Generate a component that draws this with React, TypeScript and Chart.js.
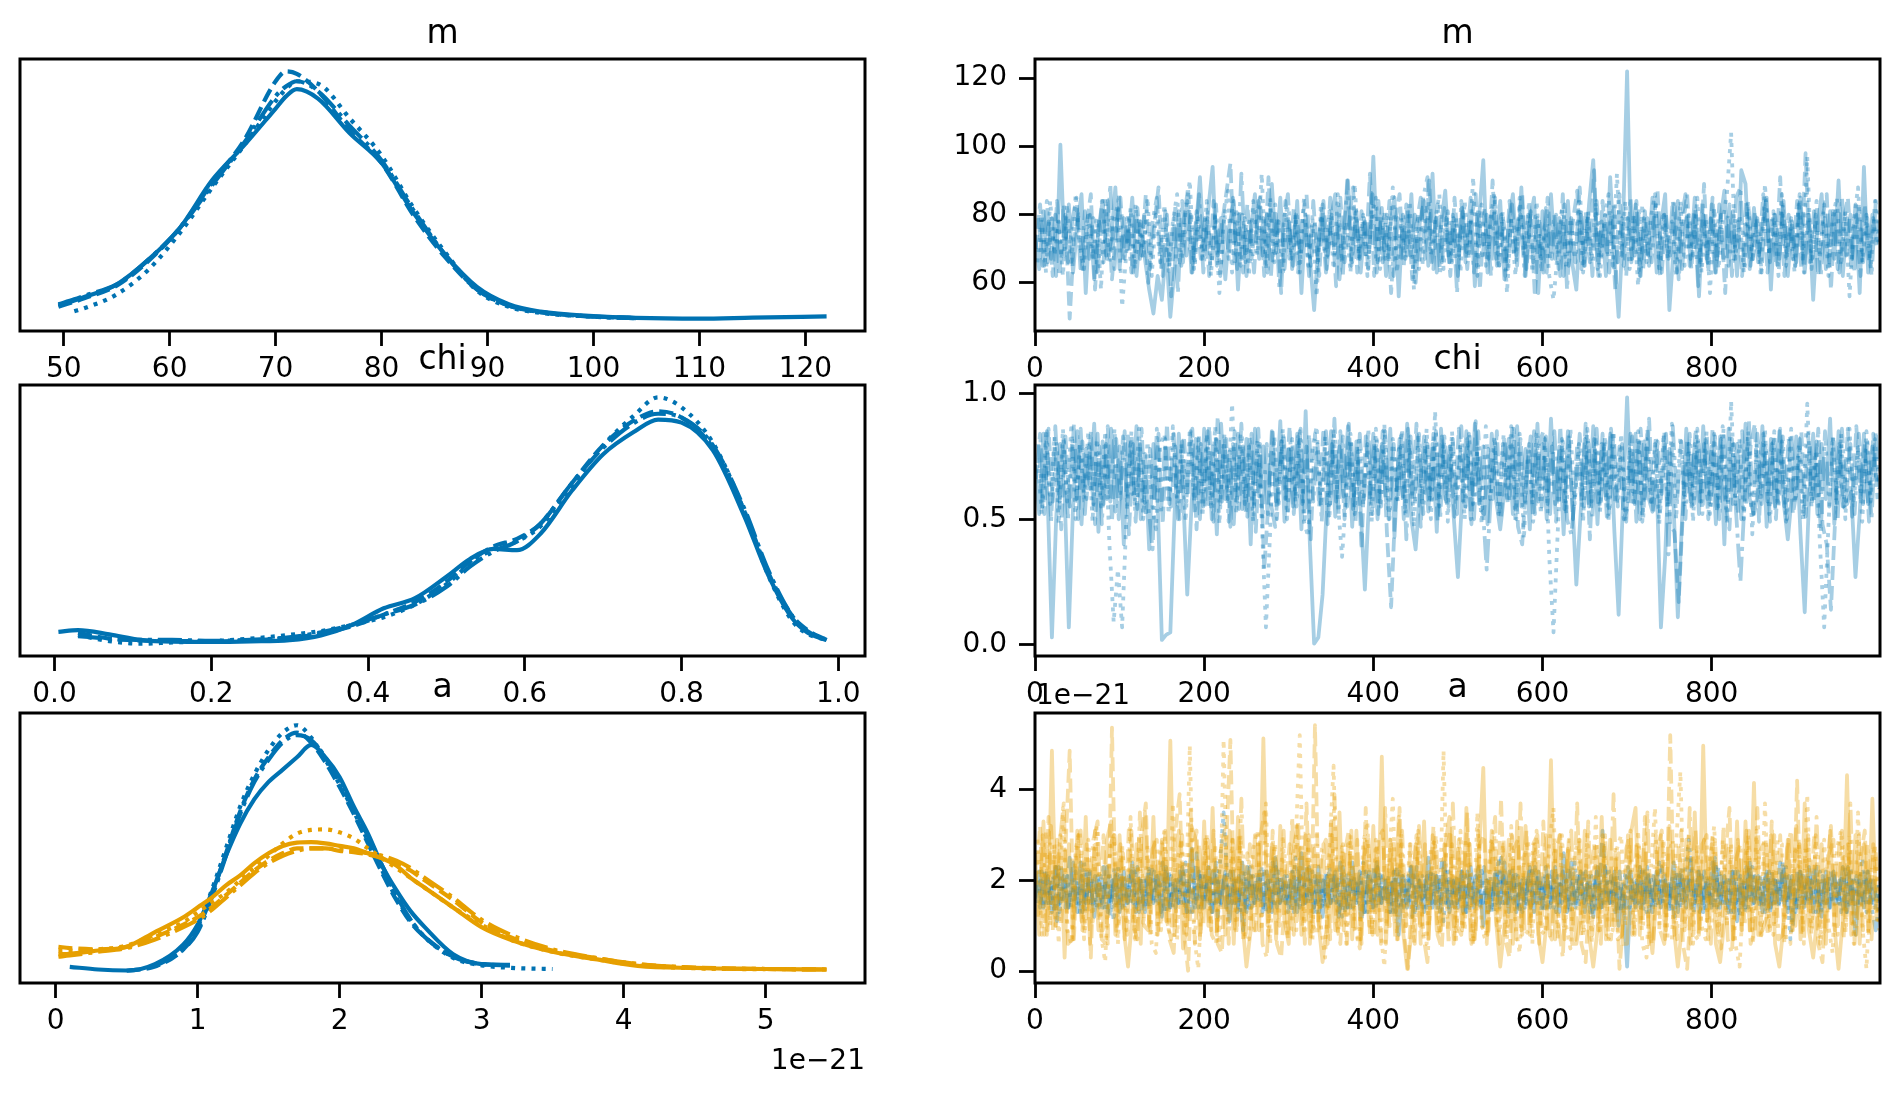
import React, { useEffect, useRef } from "react";
import { Chart, registerables } from "chart.js";

Chart.register(...registerables);

// ---------- palette / styles ----------
const BLUE = "#0072B2";
const ORANGE = "#E69F00";
const BLUE_TRACE = "rgba(0,114,178,0.35)";
const ORANGE_TRACE = "rgba(230,159,0,0.35)";
const FONT = "DejaVu Sans";
const KDE_W = 4.2;
const TRACE_W = 3.8;
// chain line styles: solid, dashed, dotted, dash-dot
const CHAIN_DASH: number[][] = [[], [14, 6], [4, 6.2], [24, 6, 4, 6]];

// ---------- tick labels ----------
const M_TICKS = [50, 60, 70, 80, 90, 100, 110, 120];
const CHI_TICKS = [0, 0.2, 0.4, 0.6, 0.8, 1.0];
const A_TICKS = [0, 1, 2, 3, 4, 5];
const DRAW_TICKS = [0, 200, 400, 600, 800];
const M_TRACE_TICKS = [60, 80, 100, 120];
const CHI_TRACE_TICKS = [0, 0.5, 1.0];
const A_TRACE_TICKS = [0, 2, 4];

// ---------- KDE of m (relative density per chain) ----------
const M_GRID = [49.5, 51, 52, 55, 58, 61, 64, 67, 70, 71, 72, 74, 77, 80, 83, 86, 89, 92, 95, 100, 104, 110, 115, 122];
const M_KDE_0 = [0.055, 0.075, 0.09, 0.14, 0.24, 0.37, 0.56, 0.70, 0.85, 0.90, 0.928, 0.89, 0.75, 0.63, 0.43, 0.26, 0.13, 0.06, 0.03, 0.012, 0.005, 0.002, 0.006, 0.011];
const M_KDE_1 = [0.05, 0.07, 0.085, 0.135, 0.235, 0.37, 0.55, 0.72, 0.96, 1.0, 0.99, 0.92, 0.76, 0.63, 0.42, 0.25, 0.12, 0.055, 0.028, 0.011, 0.004, null, null, null];
const M_KDE_2 = [null, 0.032, 0.045, 0.10, 0.20, 0.35, 0.53, 0.70, 0.88, 0.93, 0.96, 0.95, 0.81, 0.66, 0.45, 0.27, 0.115, 0.05, 0.025, 0.01, 0.004, null, null, null];
const M_KDE_3 = [0.06, 0.08, 0.095, 0.14, 0.24, 0.37, 0.54, 0.71, 0.90, 0.94, 0.96, 0.92, 0.78, 0.64, 0.44, 0.26, 0.12, 0.055, 0.028, 0.01, 0.004, null, null, null];

// ---------- KDE of chi ----------
const CHI_GRID = [0.005, 0.03, 0.07, 0.11, 0.15, 0.2, 0.25, 0.3, 0.34, 0.38, 0.42, 0.46, 0.5, 0.53, 0.56, 0.59, 0.62, 0.66, 0.70, 0.74, 0.77, 0.80, 0.84, 0.88, 0.91, 0.94, 0.96, 0.985];
const CHI_KDE_0 = [0.072, 0.079, 0.062, 0.040, 0.033, 0.032, 0.034, 0.039, 0.058, 0.10, 0.165, 0.205, 0.29, 0.36, 0.40, 0.395, 0.46, 0.63, 0.775, 0.865, 0.912, 0.90, 0.79, 0.53, 0.30, 0.13, 0.07, 0.039];
const CHI_KDE_1 = [null, 0.068, 0.045, 0.038, 0.036, 0.034, 0.038, 0.048, 0.065, 0.095, 0.14, 0.19, 0.27, 0.35, 0.41, 0.44, 0.50, 0.66, 0.81, 0.91, 0.945, 0.92, 0.80, 0.55, 0.31, 0.14, 0.08, 0.04];
const CHI_KDE_2 = [null, 0.06, 0.035, 0.025, 0.03, 0.035, 0.045, 0.06, 0.075, 0.10, 0.13, 0.18, 0.26, 0.34, 0.40, 0.43, 0.49, 0.65, 0.81, 0.93, 1.0, 0.96, 0.82, 0.55, 0.30, 0.12, 0.065, 0.04];
const CHI_KDE_3 = [null, 0.055, 0.045, 0.04, 0.04, 0.036, 0.04, 0.05, 0.07, 0.10, 0.14, 0.18, 0.25, 0.33, 0.39, 0.43, 0.50, 0.66, 0.80, 0.90, 0.935, 0.92, 0.81, 0.56, 0.32, 0.14, 0.075, 0.04];

// ---------- KDE of a (units of 1e-21); a[0] blue, a[1] orange ----------
const A_GRID = [0.02, 0.1, 0.3, 0.5, 0.7, 0.9, 1.0, 1.1, 1.2, 1.3, 1.4, 1.5, 1.6, 1.7, 1.8, 1.9, 2.0, 2.1, 2.2, 2.3, 2.4, 2.5, 2.6, 2.8, 3.0, 3.2, 3.5, 3.8, 4.1, 4.5, 5.0, 5.43];
const A0_KDE_0 = [null, 0.019, 0.008, 0.004, 0.03, 0.11, 0.19, 0.32, 0.47, 0.60, 0.70, 0.77, 0.82, 0.87, 0.92, 0.87, 0.79, 0.67, 0.56, 0.43, 0.33, 0.245, 0.18, 0.07, 0.03, 0.027, null, null, null, null, null, null];
const A0_KDE_1 = [null, null, null, 0.003, 0.02, 0.09, 0.17, 0.31, 0.48, 0.65, 0.78, 0.87, 0.94, 0.97, 0.93, 0.85, 0.75, 0.64, 0.52, 0.40, 0.29, 0.20, 0.14, 0.06, 0.03, 0.025, null, null, null, null, null, null];
const A0_KDE_2 = [null, null, null, null, 0.025, 0.10, 0.18, 0.33, 0.50, 0.67, 0.80, 0.90, 0.97, 1.0, 0.95, 0.86, 0.76, 0.65, 0.53, 0.41, 0.30, 0.21, 0.14, 0.055, 0.025, 0.015, 0.01, null, null, null, null, null];
const A0_KDE_3 = [null, null, null, null, 0.02, 0.09, 0.16, 0.30, 0.47, 0.64, 0.77, 0.86, 0.93, 0.96, 0.94, 0.87, 0.77, 0.66, 0.55, 0.43, 0.31, 0.21, 0.14, 0.06, 0.03, 0.025, null, null, null, null, null, null];
const A1_KDE_0 = [0.07, 0.072, 0.085, 0.10, 0.16, 0.22, 0.26, 0.30, 0.35, 0.39, 0.44, 0.48, 0.51, 0.523, 0.525, 0.52, 0.51, 0.50, 0.48, 0.46, 0.43, 0.38, 0.34, 0.26, 0.18, 0.13, 0.08, 0.05, 0.023, 0.014, 0.01, 0.008];
const A1_KDE_1 = [0.10, 0.095, 0.09, 0.10, 0.14, 0.19, 0.22, 0.26, 0.31, 0.36, 0.41, 0.45, 0.48, 0.50, 0.50, 0.50, 0.49, 0.485, 0.475, 0.46, 0.44, 0.41, 0.37, 0.29, 0.20, 0.14, 0.085, 0.055, 0.03, 0.016, 0.01, 0.008];
const A1_KDE_2 = [0.085, 0.085, 0.09, 0.105, 0.15, 0.20, 0.24, 0.28, 0.32, 0.37, 0.42, 0.47, 0.52, 0.56, 0.575, 0.577, 0.565, 0.54, 0.50, 0.46, 0.42, 0.38, 0.34, 0.26, 0.19, 0.13, 0.08, 0.05, 0.025, 0.013, 0.009, null];
const A1_KDE_3 = [0.06, 0.065, 0.08, 0.095, 0.13, 0.18, 0.21, 0.25, 0.30, 0.35, 0.40, 0.44, 0.47, 0.49, 0.50, 0.50, 0.495, 0.49, 0.48, 0.47, 0.45, 0.42, 0.38, 0.30, 0.21, 0.15, 0.09, 0.055, 0.03, 0.015, 0.01, 0.008];

// ---------- traces (every 5th draw; chains thinned at different phases) ----------
const DRAW_STEP = 5;
const CHAIN_PHASE = [0, 1, 3, 4];

const M_TRACE_0 = [
  74,64,81,66,79,62,100.5,68,83,63,77,86,57,80,61,76,84,67,72,88,
  64,79,70,85,62,78,67,58,51,62,55,70,50,64,81,66,84,63,75,91,
  68,82,94,65,79,61,77,84,58,80,62,75,86,67,79,63,89,69,85,64,
  78,65,84,57,80,67,52,71,83,64,79,86,61,76,90,66,81,63,78,69,
  97,66,82,62,77,85,56,80,68,86,60,78,84,65,92,63,77,87,66,79,
  62,82,69,85,59,79,96,63,81,67,84,61,77,86,65,88,62,78,85,57,
  81,63,86,67,79,62,84,66,58,80,65,83,96,64,78,62,91,68,50,75,
  122,66,83,62,79,68,85,63,77,86,52,70,84,64,79,67,85,56,80,66,
  83,63,78,87,65,81,62,93,89,64,82,66,77,85,58,80,67,84,62,78,
  66,85,63,80,55,76,86,64,81,67,90,62,79,65,83,57,94,63,80,71,
];
const M_TRACE_1 = [
  70,83,65,78,62,84,67,80,49.5,72,81,64,77,86,58,79,66,84,61,76,
  85,67,79,63,82,68,86,64,77,88,62,80,56,83,65,78,88,63,81,67,
  79,62,84,68,77,86,95,65,80,63,83,67,78,85,62,91,66,79,57,84,
  67,82,63,79,86,65,78,62,84,68,80,59,85,66,77,88,63,81,67,92,
  62,84,66,80,57,78,86,65,82,61,77,85,67,90,64,83,66,79,62,85,
  68,81,64,79,86,58,82,67,90,65,80,62,84,68,78,86,64,81,56,79,
  63,85,67,80,62,83,65,78,87,64,81,66,93,62,84,68,80,58,86,65,
  79,67,84,62,81,65,78,87,63,80,68,84,61,77,86,64,82,66,89,63,
  85,66,80,57,83,67,78,62,84,65,81,68,86,63,79,66,91,62,80,67,
  84,64,98,66,81,62,79,86,58,82,63,78,85,67,80,62,83,66,79,72,
];
const M_TRACE_2 = [
  66,80,63,84,68,78,62,83,65,86,71,64,81,67,79,58,85,66,78,83,
  53,69,82,64,79,67,85,62,80,66,83,63,78,86,65,81,90,64,79,67,
  84,62,80,57,78,87,63,82,65,79,62,84,68,92,64,85,66,78,62,83,
  67,80,63,85,65,79,56,83,68,81,64,86,66,78,63,89,67,80,62,79,
  85,64,81,66,88,63,79,67,84,58,80,65,83,68,78,86,64,81,66,79,
  63,84,67,91,62,83,65,78,86,64,81,57,79,62,85,68,80,63,84,66,
  78,62,55,69,82,64,79,67,85,63,80,66,83,62,78,86,65,92,67,84,
  64,80,59,83,66,79,86,63,81,67,78,62,84,65,80,68,85,63,79,57,
  82,64,78,86,104,67,80,63,84,66,79,62,89,68,81,64,86,65,78,63,
  84,66,97,64,80,67,83,62,79,85,65,81,56,78,88,66,80,64,84,70,
];
const M_TRACE_3 = [
  79,65,84,67,80,62,83,66,78,85,63,81,67,79,62,84,68,89,64,86,
  66,79,63,83,67,80,60,78,85,64,81,66,79,57,84,68,80,65,86,63,
  79,66,83,62,80,67,85,64,92,66,79,63,84,68,80,62,83,58,78,86,
  64,81,67,79,62,84,66,80,63,85,68,78,62,90,65,81,67,79,64,86,
  63,80,67,84,62,79,66,83,68,80,64,85,91,66,79,63,82,67,80,57,
  84,66,79,63,82,67,80,62,85,65,78,64,83,68,80,62,84,66,79,63,
  82,67,80,64,86,58,79,66,88,65,81,62,84,67,80,63,83,66,79,62,
  85,68,81,64,79,66,83,62,80,67,84,63,78,86,65,81,59,84,67,79,
  63,83,66,80,62,85,88,64,81,67,79,63,84,66,80,62,83,68,79,65,
  86,63,80,67,84,62,79,66,82,64,85,68,80,63,83,66,79,62,84,72,
];

const CHI_TRACE_0 = [
  0.72,0.52,0.84,0.58,0.03,0.50,0.80,0.60,0.07,0.55,0.85,0.48,0.78,0.62,0.88,0.45,0.81,0.58,0.86,0.53,
  0.79,0.40,0.83,0.60,0.87,0.50,0.76,0.38,0.80,0.57,0.02,0.04,0.05,0.52,0.84,0.61,0.20,0.55,0.82,0.50,
  0.86,0.56,0.79,0.44,0.88,0.58,0.77,0.48,0.84,0.54,0.82,0.40,0.86,0.59,0.79,0.52,0.85,0.57,0.89,0.49,
  0.78,0.55,0.84,0.46,0.93,0.40,0.005,0.03,0.20,0.56,0.85,0.51,0.79,0.59,0.87,0.47,0.81,0.54,0.22,0.58,
  0.84,0.50,0.80,0.57,0.86,0.43,0.78,0.59,0.88,0.50,0.38,0.61,0.83,0.53,0.80,0.45,0.86,0.58,0.79,0.51,
  0.27,0.59,0.85,0.50,0.88,0.56,0.79,0.48,0.84,0.58,0.46,0.61,0.82,0.52,0.87,0.55,0.78,0.46,0.85,0.57,
  0.80,0.50,0.90,0.56,0.79,0.44,0.85,0.59,0.24,0.52,0.82,0.55,0.87,0.48,0.80,0.58,0.84,0.45,0.12,0.55,
  0.985,0.57,0.84,0.50,0.81,0.59,0.53,0.65,0.07,0.35,0.78,0.55,0.11,0.50,0.86,0.57,0.80,0.52,0.87,0.58,
  0.79,0.48,0.83,0.40,0.86,0.56,0.80,0.50,0.88,0.58,0.52,0.61,0.87,0.47,0.82,0.55,0.85,0.57,0.42,0.60,
  0.83,0.44,0.13,0.57,0.84,0.52,0.80,0.58,0.90,0.48,0.85,0.55,0.56,0.61,0.27,0.52,0.84,0.56,0.79,0.65,
];
const CHI_TRACE_1 = [
  0.66,0.84,0.52,0.86,0.57,0.80,0.46,0.83,0.55,0.88,0.50,0.81,0.58,0.85,0.48,0.79,0.56,0.87,0.49,0.82,
  0.58,0.85,0.44,0.80,0.54,0.86,0.51,0.78,0.57,0.84,0.48,0.88,0.55,0.79,0.50,0.83,0.59,0.86,0.46,0.80,
  0.55,0.87,0.49,0.91,0.57,0.82,0.47,0.85,0.54,0.79,0.51,0.84,0.45,0.80,0.30,0.57,0.86,0.50,0.81,0.58,
  0.87,0.52,0.83,0.56,0.79,0.42,0.84,0.55,0.86,0.48,0.80,0.57,0.85,0.50,0.88,0.54,0.79,0.38,0.83,0.57,
  0.80,0.52,0.85,0.45,0.15,0.55,0.82,0.50,0.86,0.58,0.88,0.47,0.80,0.56,0.84,0.49,0.83,0.57,0.79,0.51,
  0.86,0.56,0.82,0.48,0.89,0.54,0.52,0.78,0.58,0.85,0.50,0.81,0.57,0.86,0.47,0.40,0.67,0.83,0.52,0.80,
  0.85,0.56,0.79,0.49,0.87,0.54,0.84,0.50,0.80,0.57,0.88,0.42,0.82,0.55,0.84,0.51,0.86,0.57,0.79,0.50,
  0.55,0.83,0.49,0.86,0.57,0.90,0.52,0.81,0.60,0.84,0.48,0.45,0.17,0.53,0.81,0.55,0.86,0.57,0.80,0.50,
  0.86,0.53,0.82,0.57,0.46,0.80,0.52,0.85,0.56,0.79,0.88,0.49,0.84,0.57,0.80,0.50,0.86,0.55,0.82,0.52,
  0.62,0.85,0.51,0.80,0.57,0.86,0.48,0.40,0.14,0.50,0.81,0.55,0.86,0.51,0.87,0.57,0.80,0.49,0.84,0.58,
];
const CHI_TRACE_2 = [
  0.74,0.52,0.84,0.56,0.83,0.48,0.86,0.57,0.88,0.50,0.80,0.58,0.85,0.49,0.82,0.55,0.85,0.40,0.09,0.30,
  0.07,0.50,0.82,0.55,0.86,0.50,0.81,0.57,0.46,0.79,0.84,0.52,0.87,0.56,0.80,0.49,0.86,0.57,0.82,0.51,
  0.84,0.55,0.87,0.48,0.81,0.58,0.96,0.52,0.84,0.56,0.79,0.49,0.82,0.50,0.07,0.45,0.83,0.55,0.86,0.50,
  0.80,0.57,0.85,0.49,0.43,0.78,0.87,0.55,0.83,0.50,0.86,0.57,0.35,0.60,0.84,0.52,0.83,0.56,0.80,0.49,
  0.86,0.55,0.88,0.50,0.82,0.58,0.85,0.52,0.81,0.47,0.84,0.55,0.86,0.50,0.93,0.55,0.82,0.49,0.85,0.57,
  0.80,0.50,0.84,0.56,0.79,0.48,0.87,0.58,0.83,0.52,0.80,0.57,0.87,0.49,0.84,0.42,0.79,0.56,0.85,0.52,
  0.82,0.35,0.05,0.45,0.82,0.52,0.86,0.56,0.80,0.49,0.86,0.57,0.83,0.53,0.81,0.49,0.85,0.56,0.84,0.50,
  0.78,0.55,0.85,0.49,0.82,0.57,0.80,0.48,0.84,0.55,0.88,0.50,0.83,0.56,0.80,0.49,0.86,0.57,0.83,0.52,
  0.84,0.55,0.87,0.48,0.97,0.56,0.82,0.50,0.85,0.44,0.80,0.57,0.86,0.52,0.83,0.55,0.81,0.49,0.84,0.56,
  0.80,0.50,0.96,0.55,0.77,0.40,0.07,0.47,0.83,0.55,0.84,0.50,0.86,0.56,0.80,0.49,0.85,0.57,0.82,0.62,
];
const CHI_TRACE_3 = [
  0.80,0.55,0.85,0.49,0.87,0.57,0.83,0.50,0.82,0.58,0.86,0.52,0.81,0.56,0.84,0.48,0.80,0.57,0.86,0.50,
  0.83,0.55,0.85,0.49,0.80,0.57,0.55,0.38,0.86,0.52,0.82,0.56,0.84,0.50,0.81,0.57,0.85,0.52,0.83,0.55,
  0.85,0.50,0.82,0.56,0.84,0.49,0.80,0.57,0.88,0.52,0.83,0.55,0.86,0.50,0.80,0.56,0.47,0.69,0.84,0.52,
  0.82,0.55,0.86,0.50,0.84,0.57,0.80,0.49,0.85,0.56,0.90,0.52,0.83,0.55,0.81,0.49,0.84,0.57,0.86,0.52,
  0.82,0.55,0.85,0.50,0.80,0.57,0.86,0.42,0.83,0.56,0.84,0.52,0.80,0.57,0.85,0.50,0.83,0.55,0.82,0.52,
  0.87,0.55,0.83,0.50,0.85,0.57,0.30,0.60,0.81,0.52,0.84,0.56,0.86,0.50,0.82,0.57,0.80,0.49,0.88,0.55,
  0.83,0.52,0.85,0.56,0.81,0.50,0.44,0.62,0.84,0.55,0.82,0.50,0.86,0.57,0.83,0.52,0.85,0.55,0.80,0.49,
  0.84,0.56,0.82,0.50,0.86,0.55,0.83,0.52,0.85,0.36,0.87,0.57,0.81,0.50,0.84,0.56,0.82,0.52,0.85,0.55,
  0.83,0.50,0.86,0.56,0.82,0.52,0.25,0.58,0.89,0.52,0.84,0.56,0.80,0.49,0.85,0.55,0.83,0.50,0.86,0.57,
  0.82,0.52,0.84,0.56,0.81,0.45,0.85,0.55,0.83,0.50,0.86,0.57,0.80,0.52,0.84,0.56,0.82,0.50,0.85,0.62,
];

const A0_TRACE_0 = [
  1.6,2.2,1.4,2.1,1.3,2.3,1.5,2.0,1.4,2.4,1.3,2.1,1.5,2.2,1.2,2.0,1.4,2.3,1.5,2.1,
  1.3,2.2,1.5,2.4,1.4,2.0,1.3,2.2,1.5,2.1,1.2,2.3,1.4,2.0,1.5,2.2,1.3,2.7,1.5,2.1,
  1.4,2.3,1.3,2.1,1.5,2.2,1.1,2.0,1.4,2.4,1.3,2.1,1.5,2.2,1.4,2.0,1.3,2.3,1.5,2.1,
  1.4,2.2,1.3,2.6,1.5,2.0,1.4,2.3,1.2,2.1,1.5,2.2,1.3,2.0,1.4,2.4,1.5,2.1,1.3,2.2,
  1.4,2.3,1.5,2.0,1.3,2.2,0.8,2.1,1.4,2.3,1.5,2.0,1.3,2.5,1.4,2.1,1.5,2.2,1.3,2.0,
  1.4,2.2,1.3,2.3,1.5,2.1,1.0,2.0,1.4,2.2,1.5,2.4,1.3,2.1,1.4,2.0,1.5,2.3,1.3,2.2,
  1.4,2.1,1.5,2.3,1.3,2.6,1.4,2.0,1.5,2.2,1.3,2.1,1.2,2.3,1.4,2.0,1.5,2.2,1.0,1.8,
  0.1,2.0,1.4,2.3,1.5,2.1,1.3,2.2,1.4,2.0,1.5,2.4,1.3,2.1,1.4,2.5,1.5,2.2,1.3,2.0,
  1.4,2.3,1.5,2.1,1.3,2.2,1.1,2.0,1.4,2.4,1.5,2.1,1.3,2.2,1.4,2.0,1.5,2.3,1.3,2.1,
  1.4,2.2,1.5,2.3,1.3,2.0,1.2,2.2,1.4,2.1,1.5,2.3,1.3,2.0,0.8,2.1,1.4,2.2,1.5,1.9,
];
const A0_TRACE_1 = [
  1.9,1.4,2.2,1.5,2.1,1.1,2.3,1.4,2.5,1.5,2.0,1.3,2.2,1.5,2.1,1.4,2.3,1.3,2.0,1.5,
  2.2,1.4,2.1,1.5,2.3,1.3,2.0,1.4,2.2,1.5,2.4,1.3,2.1,1.4,2.2,1.5,2.0,1.3,2.6,1.4,
  2.1,1.5,2.3,1.2,2.0,1.4,2.2,1.5,2.1,0.9,2.3,1.4,2.0,1.5,2.2,1.3,2.4,1.4,2.1,1.5,
  2.0,1.3,2.2,1.4,2.3,1.5,2.1,1.3,2.0,1.4,2.2,1.5,2.4,1.3,2.1,1.4,2.0,1.1,2.2,1.5,
  2.3,1.4,2.1,1.5,2.0,1.3,2.2,1.4,2.1,1.2,2.3,1.5,2.0,1.4,2.2,1.3,2.4,1.5,2.1,1.4,
  2.0,1.3,2.2,1.5,2.1,1.4,2.3,1.3,2.0,1.5,2.5,1.4,2.2,1.5,2.1,1.3,2.0,1.4,2.3,1.5,
  2.1,1.4,2.2,1.3,2.0,1.5,2.3,1.4,2.1,1.5,2.2,1.3,2.0,1.4,3.1,1.5,2.1,1.3,2.2,1.4,
  2.3,1.5,2.0,1.4,2.2,1.3,2.1,1.5,2.3,1.4,2.0,1.2,2.2,1.5,2.1,1.4,2.0,1.3,2.2,1.5,
  2.4,1.4,2.1,1.5,2.0,1.3,2.2,1.4,2.3,1.5,2.1,1.4,2.0,1.3,2.2,1.5,2.4,1.4,2.1,1.0,
  2.2,1.5,2.0,1.4,2.3,1.3,2.1,1.5,2.2,1.4,2.0,1.3,2.3,1.5,2.1,1.4,2.2,1.5,2.0,1.5,
];
const A0_TRACE_2 = [
  1.5,2.2,1.4,2.0,1.3,2.3,1.5,2.1,1.4,2.2,1.3,2.4,1.5,2.0,1.4,2.1,1.3,2.2,1.1,2.3,
  1.4,2.0,1.5,2.2,1.3,2.1,1.4,2.3,1.5,2.0,1.3,2.2,1.4,2.1,1.5,2.4,1.3,2.0,1.4,2.2,
  1.5,2.1,1.4,2.2,3.5,1.8,1.5,2.0,1.3,2.2,1.4,2.1,1.5,2.3,1.3,2.0,1.4,2.2,1.5,2.1,
  1.3,2.5,1.4,2.0,1.5,2.2,1.3,2.1,1.4,2.3,1.5,2.0,1.2,2.2,1.4,2.1,1.5,2.4,1.3,2.0,
  1.4,2.2,1.5,2.1,1.3,2.3,1.4,2.0,1.5,2.2,1.3,2.1,1.4,2.2,1.5,2.0,1.1,2.3,1.4,2.1,
  1.5,2.2,1.3,2.0,1.4,2.3,1.5,2.1,1.3,2.5,1.4,2.0,1.5,2.2,1.3,2.1,1.4,2.3,1.5,2.0,
  1.3,2.2,1.4,2.1,1.5,2.0,1.3,2.4,1.4,2.2,1.5,2.1,1.3,2.0,1.4,2.3,1.5,2.1,1.3,2.2,
  1.4,2.0,1.5,2.3,1.3,2.1,1.4,2.4,1.5,2.0,1.3,2.2,1.4,2.1,2.9,1.8,1.5,2.2,1.3,2.0,
  1.4,2.3,1.5,2.1,1.3,2.2,1.2,2.0,1.4,2.3,1.5,2.1,1.3,2.2,1.4,2.0,1.5,2.3,0.7,1.8,
  1.4,2.2,1.5,2.0,1.3,2.2,1.4,2.1,1.5,2.0,1.3,2.3,1.4,2.1,1.5,2.5,1.3,2.0,1.4,1.9,
];
const A0_TRACE_3 = [
  2.0,1.4,2.2,1.5,2.3,1.3,2.1,1.4,2.0,1.5,2.4,1.3,2.2,1.4,2.1,1.5,2.0,1.2,2.3,1.4,
  2.1,1.5,2.2,1.3,2.0,1.4,2.3,1.5,2.1,1.3,2.2,1.4,2.0,1.5,2.3,1.3,2.1,1.4,2.2,1.5,
  2.0,1.3,2.4,1.4,2.1,1.5,2.2,1.3,2.0,1.4,2.3,1.5,2.1,1.3,2.2,1.4,2.5,1.5,2.0,1.3,
  2.2,1.4,2.1,1.5,2.3,1.3,2.0,1.4,2.2,1.5,2.1,1.2,2.3,1.4,2.0,1.5,2.2,1.3,2.1,1.4,
  2.4,1.5,2.0,1.3,2.2,1.4,2.1,1.5,2.3,1.3,2.0,1.4,2.2,1.5,2.1,1.3,2.4,1.4,2.0,1.5,
  2.2,1.3,2.1,1.4,2.3,1.5,2.0,1.3,2.2,1.4,2.1,1.5,2.3,1.3,2.0,1.4,2.2,1.5,2.1,1.3,
  2.3,1.4,2.0,1.5,2.2,1.3,2.4,1.4,2.1,1.5,2.0,1.3,2.2,1.4,2.3,1.5,2.1,1.3,2.0,1.4,
  2.2,1.5,2.1,1.3,2.3,1.4,2.0,1.5,2.2,1.3,2.1,1.4,2.3,1.5,2.0,1.3,2.2,1.4,2.1,1.5,
  2.5,1.3,2.0,1.4,2.2,1.5,2.1,1.3,2.3,1.4,2.0,1.5,2.2,1.3,2.1,1.4,2.4,1.5,2.0,1.3,
  2.2,1.4,2.1,1.5,2.3,1.3,2.0,1.4,2.2,1.5,2.1,1.3,2.3,1.4,2.0,1.5,2.2,1.4,0.9,1.7,
];

const A1_TRACE_0 = [
  2.6,0.8,3.3,0.9,4.86,1.0,3.0,0.3,2.8,0.7,3.1,1.1,3.4,0.6,2.7,0.9,0.9,2.9,3.3,0.8,
  3.0,0.9,0.1,1.2,2.8,0.6,3.5,1.0,3.4,0.8,2.9,1.1,5.08,0.8,3.1,0.5,1.0,3.2,2.9,0.7,
  3.3,1.0,3.6,0.8,2.7,0.8,3.1,0.6,3.4,1.1,0.1,0.9,3.0,0.9,5.13,1.0,2.8,0.7,3.2,1.1,
  0.6,2.6,3.2,0.8,3.0,0.6,2.7,1.1,0.2,1.0,3.3,0.9,3.5,0.9,2.8,0.7,3.1,0.7,2.9,1.0,
  3.2,0.8,4.73,0.6,2.9,1.1,3.4,0.9,0.05,0.8,2.8,1.0,3.3,0.7,3.0,0.9,0.9,2.8,3.4,0.6,
  2.7,0.9,3.6,0.7,0.7,2.6,4.48,0.8,3.1,1.1,0.1,1.0,2.9,0.6,3.3,0.9,3.2,0.8,2.8,0.8,
  0.2,1.1,4.65,0.7,3.0,1.0,2.7,0.6,0.6,1.2,3.1,0.8,0.1,0.9,3.4,0.7,2.9,1.0,2.6,0.6,
  0.6,3.1,3.6,0.8,2.8,1.1,0.4,1.8,3.0,0.7,3.2,1.0,0.1,1.0,2.9,0.6,3.5,0.8,4.97,1.1,
  2.8,0.6,0.2,1.1,2.7,0.7,3.3,0.9,3.3,0.9,4.15,0.8,0.9,1.2,3.0,0.6,0.1,1.0,2.9,0.9,
  3.2,0.7,3.7,0.9,0.3,1.2,2.8,0.6,3.1,1.0,0.05,1.1,4.32,0.8,3.0,0.6,2.8,0.9,3.8,1.1,
];
const A1_TRACE_1 = [
  1.9,3.2,0.8,3.4,0.9,2.9,1.0,2.7,4.86,0.7,3.0,0.9,2.8,0.3,3.1,1.1,3.0,0.6,5.37,0.8,
  2.8,0.7,3.2,1.0,0.7,3.0,3.7,0.8,2.9,0.9,2.8,1.1,0.7,3.1,3.9,0.9,0.01,2.6,3.1,0.8,
  2.9,1.0,3.1,0.6,0.4,2.7,5.1,0.9,3.0,0.7,2.6,1.1,0.9,2.9,3.5,0.8,3.1,0.6,0.3,1.8,
  2.8,0.8,3.3,1.0,3.7,0.7,5.42,0.9,2.8,0.6,3.0,1.1,0.6,2.6,3.1,0.9,2.9,0.6,3.6,0.8,
  0.8,2.9,3.1,1.0,2.8,0.7,3.6,0.9,0.05,1.8,3.0,0.6,2.8,1.0,3.2,0.8,0.5,2.6,3.1,0.7,
  2.9,0.9,3.5,0.6,0.9,2.8,3.0,0.8,2.8,1.0,3.8,0.7,0.3,2.7,2.9,0.8,3.1,1.1,2.8,0.6,
  3.3,0.9,0.7,2.7,3.0,0.7,2.9,1.0,3.7,0.6,0.2,1.9,2.8,0.9,3.0,0.8,0.7,2.6,0.05,1.2,
  3.0,0.8,2.8,1.0,3.4,0.6,0.6,2.7,3.1,0.9,5.2,0.8,2.8,0.6,0.05,1.7,3.1,0.9,2.9,0.7,
  3.0,1.0,0.5,2.5,3.6,0.7,2.9,0.9,3.1,0.6,0.9,2.6,2.8,0.8,3.3,1.0,3.0,0.6,2.9,0.9,
  4.2,0.8,2.8,1.0,3.0,0.6,0.2,2.2,3.2,0.9,2.9,0.7,2.8,1.0,0.8,2.5,3.1,0.8,2.8,1.1,
];
const A1_TRACE_2 = [
  2.9,0.8,3.1,1.0,2.8,0.6,3.6,0.9,0.6,2.7,3.1,0.7,2.9,1.0,3.2,0.8,0.2,2.5,3.0,0.6,
  2.8,0.9,3.4,0.7,3.0,1.0,2.8,0.6,0.4,2.6,3.1,0.9,3.7,0.7,2.9,1.0,4.97,0.8,0.05,1.9,
  3.0,0.9,2.8,0.6,5.1,1.0,2.9,0.8,3.0,0.7,0.7,2.7,3.1,0.9,3.7,0.6,2.8,1.0,3.0,0.8,
  0.9,2.7,5.2,0.9,2.9,0.7,3.1,1.0,0.3,2.6,4.53,0.8,2.8,0.6,3.0,0.9,0.6,2.8,3.3,0.8,
  2.9,1.0,0.1,2.2,3.8,0.7,3.0,0.9,2.8,0.6,3.1,1.0,0.6,2.7,2.9,0.8,4.86,0.9,2.8,0.7,
  3.1,0.9,2.9,0.6,3.5,1.0,0.8,2.8,3.0,0.8,2.8,0.7,3.2,1.0,0.4,2.5,2.9,0.6,3.1,0.9,
  0.8,2.8,3.6,0.7,3.0,1.0,0.5,2.6,2.9,0.8,3.1,0.6,3.4,0.9,2.8,0.7,0.9,2.7,3.0,1.0,
  2.8,0.8,3.1,0.6,0.3,2.2,3.6,0.9,2.9,0.7,0.7,2.8,4.4,0.9,3.0,0.6,2.8,1.0,0.7,2.5,
  3.2,0.8,2.9,1.0,2.8,0.6,0.1,1.9,3.0,0.9,3.1,0.7,3.7,1.0,0.8,2.9,2.8,0.7,0.6,2.6,
  2.8,0.9,3.9,0.8,3.0,0.6,2.9,1.0,0.4,2.7,3.1,0.8,3.0,0.6,3.5,1.0,0.05,2.1,2.8,0.9,
];
const A1_TRACE_3 = [
  1.2,3.0,0.8,3.2,1.0,2.8,3.7,0.6,0.7,2.7,3.1,0.9,1.8,2.9,3.3,0.7,0.6,2.8,3.0,1.0,
  2.6,0.8,3.1,0.6,3.5,1.0,0.9,2.7,2.9,0.9,3.1,0.7,0.4,2.5,3.0,0.8,3.6,0.6,2.8,1.0,
  2.9,0.8,0.6,2.6,3.1,0.6,2.9,1.0,3.8,0.7,2.8,0.9,3.0,0.6,0.3,2.2,2.8,1.0,3.1,0.7,
  3.4,0.9,2.8,0.6,3.0,1.0,0.8,2.7,2.9,0.7,3.9,0.9,2.8,0.6,3.1,1.0,0.5,2.5,3.0,0.8,
  2.8,0.6,3.6,0.9,2.9,0.7,3.1,1.0,2.8,0.6,3.2,0.8,0.2,2.1,3.0,0.9,2.8,0.6,3.7,1.0,
  0.8,2.9,2.8,0.7,3.1,0.9,0.6,2.6,3.4,0.6,2.9,1.0,3.0,0.7,3.7,0.8,0.9,2.8,3.0,0.9,
  3.0,0.7,2.8,1.0,0.3,2.5,3.1,0.6,2.9,0.9,3.3,0.8,2.8,0.6,3.0,1.0,3.9,0.7,0.8,2.7,
  3.1,0.8,2.8,1.0,3.5,0.6,3.0,0.9,0.6,2.6,2.9,0.7,3.1,1.0,3.6,0.8,0.7,2.8,3.0,0.6,
  2.9,0.9,3.2,0.7,0.4,2.5,2.8,1.0,3.1,0.6,3.6,0.8,2.9,0.9,3.0,0.7,0.8,2.7,3.1,1.0,
  2.8,0.6,3.0,0.9,3.4,0.7,0.9,2.6,2.9,0.8,3.1,1.0,3.7,0.6,3.0,0.9,2.8,0.7,2.6,1.7,
];

// ---------- figure geometry ----------
const COL_FRAME = [
  { left: 20, right: 865 },
  { left: 1035, right: 1880 },
];
const ROW_FRAME = [
  { top: 59, bottom: 331 },
  { top: 385, bottom: 656 },
  { top: 713, bottom: 983 },
];
const PAD_TOP = 55;
const PAD_BOTTOM = 100;
const PAD_RIGHT = 20;
const PAD_LEFT_KDE = 20;
const PAD_LEFT_TRACE = 110;

type Series = { values: (number | null)[]; xs?: number[]; chain: number; color: string };

type PanelSpec = {
  key: string;
  row: number;
  col: number;
  title: string;
  kind: "kde" | "trace";
  series: Series[];
  xTicks: number[];
  xFmt: (v: number) => string;
  yTicks?: number[];
  yFmt?: (v: number) => string;
  offsetText?: "bottom-right" | "top-left";
};

const fmtInt = (v: number) => String(Math.round(v));
const fmt1 = (v: number) => v.toFixed(1);

function kdeSeries(grid: number[], chains: (number | null)[][], color: string): Series[] {
  return chains.map((values, chain) => ({ values, xs: grid, chain, color }));
}
function traceSeries(chains: number[][], color: string): Series[] {
  return chains.map((values, chain) => ({ values, chain, color }));
}

const PANELS: PanelSpec[] = [
  {
    key: "m-kde", row: 0, col: 0, title: "m", kind: "kde",
    series: kdeSeries(M_GRID, [M_KDE_0, M_KDE_1, M_KDE_2, M_KDE_3], BLUE),
    xTicks: M_TICKS, xFmt: fmtInt,
  },
  {
    key: "m-trace", row: 0, col: 1, title: "m", kind: "trace",
    series: traceSeries([M_TRACE_0, M_TRACE_1, M_TRACE_2, M_TRACE_3], BLUE_TRACE),
    xTicks: DRAW_TICKS, xFmt: fmtInt, yTicks: M_TRACE_TICKS, yFmt: fmtInt,
  },
  {
    key: "chi-kde", row: 1, col: 0, title: "chi", kind: "kde",
    series: kdeSeries(CHI_GRID, [CHI_KDE_0, CHI_KDE_1, CHI_KDE_2, CHI_KDE_3], BLUE),
    xTicks: CHI_TICKS, xFmt: fmt1,
  },
  {
    key: "chi-trace", row: 1, col: 1, title: "chi", kind: "trace",
    series: traceSeries([CHI_TRACE_0, CHI_TRACE_1, CHI_TRACE_2, CHI_TRACE_3], BLUE_TRACE),
    xTicks: DRAW_TICKS, xFmt: fmtInt, yTicks: CHI_TRACE_TICKS, yFmt: fmt1,
  },
  {
    key: "a-kde", row: 2, col: 0, title: "a", kind: "kde",
    series: [
      ...kdeSeries(A_GRID, [A0_KDE_0, A0_KDE_1, A0_KDE_2, A0_KDE_3], BLUE),
      ...kdeSeries(A_GRID, [A1_KDE_0, A1_KDE_1, A1_KDE_2, A1_KDE_3], ORANGE),
    ],
    xTicks: A_TICKS, xFmt: fmtInt, offsetText: "bottom-right",
  },
  {
    key: "a-trace", row: 2, col: 1, title: "a", kind: "trace",
    series: [
      ...traceSeries([A0_TRACE_0, A0_TRACE_1, A0_TRACE_2, A0_TRACE_3], BLUE_TRACE),
      ...traceSeries([A1_TRACE_0, A1_TRACE_1, A1_TRACE_2, A1_TRACE_3], ORANGE_TRACE),
    ],
    xTicks: DRAW_TICKS, xFmt: fmtInt, yTicks: A_TRACE_TICKS, yFmt: fmtInt, offsetText: "top-left",
  },
];

const OFFSET_LABEL = "1e\u221221";

function padded(values: number[]) {
  const lo = Math.min(...values);
  const hi = Math.max(...values);
  const m = (hi - lo) * 0.05;
  return { min: lo - m, max: hi + m };
}

function buildPoints(s: Series) {
  const pts: { x: number; y: number }[] = [];
  s.values.forEach((y, i) => {
    if (y === null) return;
    const x = s.xs ? s.xs[i] : i * DRAW_STEP + CHAIN_PHASE[s.chain];
    pts.push({ x, y });
  });
  return pts;
}

function Panel({ spec }: { spec: PanelSpec }) {
  const ref = useRef<HTMLCanvasElement | null>(null);
  const isTrace = spec.kind === "trace";
  const frameX = COL_FRAME[spec.col];
  const frameY = ROW_FRAME[spec.row];
  const padLeft = isTrace ? PAD_LEFT_TRACE : PAD_LEFT_KDE;
  const width = padLeft + (frameX.right - frameX.left) + PAD_RIGHT;
  const height = PAD_TOP + (frameY.bottom - frameY.top) + PAD_BOTTOM;
  const left = frameX.left - padLeft;
  const top = frameY.top - PAD_TOP;

  useEffect(() => {
    const canvas = ref.current;
    if (!canvas) return;
    const pointSets = spec.series.map(buildPoints);
    const allX = pointSets.flat().map((p) => p.x);
    const allY = pointSets.flat().map((p) => p.y);
    const xr = isTrace ? { min: 0, max: 999 } : padded(allX);
    const yr = padded(allY);
    const n = spec.series.length;

    const datasets = spec.series.map((s, i) => ({
      data: pointSets[i],
      borderColor: s.color,
      borderWidth: isTrace ? TRACE_W : KDE_W,
      borderDash: CHAIN_DASH[s.chain],
      borderCapStyle: "butt" as const,
      borderJoinStyle: "round" as const,
      pointRadius: 0,
      fill: false,
      tension: isTrace ? 0 : 0.4,
      cubicInterpolationMode: isTrace ? ("default" as const) : ("monotone" as const),
      order: n - i,
    }));

    const decor = {
      id: "panelDecor",
      afterDraw(chart: Chart) {
        const { ctx, chartArea: a } = chart;
        ctx.save();
        ctx.strokeStyle = "#000";
        ctx.lineWidth = 3;
        ctx.strokeRect(a.left, a.top, a.right - a.left, a.bottom - a.top);
        ctx.fillStyle = "#000";
        ctx.font = `33px "${FONT}"`;
        ctx.textAlign = "center";
        ctx.textBaseline = "alphabetic";
        ctx.fillText(spec.title, (a.left + a.right) / 2, a.top - 16);
        if (spec.offsetText) {
          ctx.font = `28px "${FONT}"`;
          if (spec.offsetText === "bottom-right") {
            ctx.textAlign = "right";
            ctx.fillText(OFFSET_LABEL, a.right, a.bottom + 86);
          } else {
            ctx.textAlign = "left";
            ctx.fillText(OFFSET_LABEL, a.left + 1, a.top - 9);
          }
        }
        ctx.restore();
      },
    };

    const tickFont = { family: FONT, size: 28 };
    const chart = new Chart(canvas, {
      type: "line",
      data: { datasets },
      options: {
        responsive: false,
        animation: false,
        events: [],
        layout: {
          padding: {
            top: PAD_TOP,
            right: PAD_RIGHT,
            bottom: 0,
            left: isTrace ? 0 : PAD_LEFT_KDE,
          },
        },
        plugins: { legend: { display: false }, tooltip: { enabled: false } },
        scales: {
          x: {
            type: "linear",
            min: xr.min,
            max: xr.max,
            border: { display: false },
            grid: {
              drawOnChartArea: false,
              drawTicks: true,
              tickLength: 15,
              tickWidth: 2.8,
              tickColor: "#000",
            },
            ticks: {
              color: "#000",
              font: tickFont,
              padding: 6.5,
              maxRotation: 0,
              autoSkip: false,
              callback: (v: any) => spec.xFmt(Number(v)),
            },
            afterBuildTicks: (s: any) => {
              s.ticks = spec.xTicks.map((value) => ({ value }));
            },
            afterFit: (s: any) => {
              s.height = PAD_BOTTOM;
            },
          },
          y: {
            type: "linear",
            display: isTrace,
            min: yr.min,
            max: yr.max,
            border: { display: false },
            grid: {
              drawOnChartArea: false,
              drawTicks: true,
              tickLength: 16,
              tickWidth: 2.8,
              tickColor: "#000",
            },
            ticks: {
              color: "#000",
              font: tickFont,
              padding: 12,
              autoSkip: false,
              callback: (v: any) => (spec.yFmt ? spec.yFmt(Number(v)) : String(v)),
            },
            afterBuildTicks: (s: any) => {
              if (spec.yTicks) s.ticks = spec.yTicks.map((value) => ({ value }));
            },
            afterFit: (s: any) => {
              s.width = isTrace ? PAD_LEFT_TRACE : 0;
            },
          },
        },
      },
      plugins: [decor],
    });
    return () => chart.destroy();
  }, [spec]);

  return (
    <canvas
      ref={ref}
      width={width}
      height={height}
      style={{ position: "absolute", left, top, width, height }}
    />
  );
}

export default function App() {
  return (
    <div
      style={{
        position: "absolute",
        left: 0,
        top: 0,
        width: 1900,
        height: 1095,
        background: "#fff",
        overflow: "hidden",
      }}
    >
      {PANELS.map((p) => (
        <Panel key={p.key} spec={p} />
      ))}
    </div>
  );
}
